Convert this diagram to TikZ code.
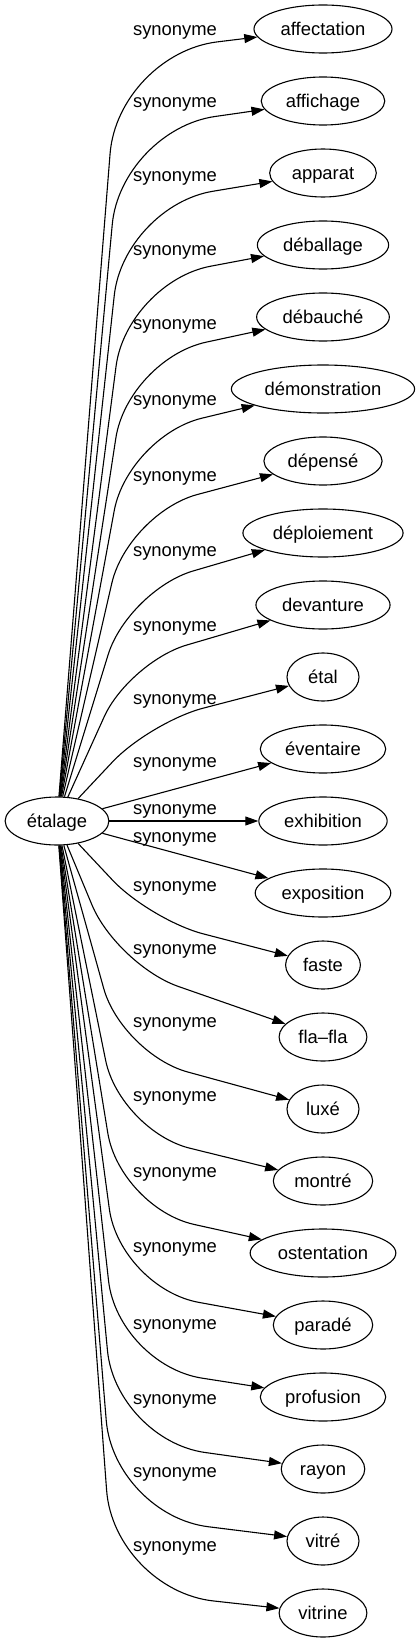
\documentclass[tikz,border=0pt]{standalone}
\usepackage{fontspec}
\setmainfont{Liberation Sans}
\usetikzlibrary{arrows.meta,shapes.geometric}
\tikzset{
  word/.style={ellipse, draw=black, line width=1.1pt, inner xsep=6.5pt, inner ysep=6.5pt,
               minimum width=72pt, minimum height=48pt, text height=13.2pt, text depth=0pt,
               font=\fontsize{18.4}{22}\selectfont},
  lbl/.style={anchor=base, inner sep=0pt, font=\fontsize{18.4}{22}\selectfont},
  flow/.style={-{Triangle[length=13pt,width=9pt]}, draw=black, line width=1.1pt},
}

\begin{document}
\begin{tikzpicture}[x=1pt, y=-1pt]
\useasboundingbox (0,0) rectangle (418,1643);
% head word
\node[word] (etalage) at (57,821) {étalage};
% synonyms, one row each
\node[word] (affectation)   at (323,29)   {affectation};
\node[word] (affichage)     at (323,101)  {affichage};
\node[word] (apparat)       at (323,173)  {apparat};
\node[word] (deballage)     at (323,245)  {déballage};
\node[word] (debauche)      at (323,317)  {débauché};
\node[word] (demonstration) at (323,389)  {démonstration};
\node[word] (depense)       at (323,461)  {dépensé};
\node[word] (deploiement)   at (323,533)  {déploiement};
\node[word] (devanture)     at (323,605)  {devanture};
\node[word] (etal)          at (323,677)  {étal};
\node[word] (eventaire)     at (323,749)  {éventaire};
\node[word] (exhibition)    at (323,821)  {exhibition};
\node[word] (exposition)    at (323,893)  {exposition};
\node[word] (faste)         at (323,965)  {faste};
\node[word] (flafla)        at (323,1037) {fla–fla};
\node[word] (luxe)          at (323,1109) {luxé};
\node[word] (montre)        at (323,1181) {montré};
\node[word] (ostentation)   at (323,1253) {ostentation};
\node[word] (parade)        at (323,1325) {paradé};
\node[word] (profusion)     at (323,1397) {profusion};
\node[word] (rayon)         at (323,1469) {rayon};
\node[word] (vitre)         at (323,1541) {vitré};
\node[word] (vitrine)       at (323,1613) {vitrine};
% edge labels
\node[lbl] (affectation-l)   at (175,35.5)   {synonyme};
\node[lbl] (affichage-l)     at (175,107.5)  {synonyme};
\node[lbl] (apparat-l)       at (175,181.5)  {synonyme};
\node[lbl] (deballage-l)     at (175,255.5)  {synonyme};
\node[lbl] (debauche-l)      at (175,329.5)  {synonyme};
\node[lbl] (demonstration-l) at (175,405.5)  {synonyme};
\node[lbl] (depense-l)       at (175,481.5)  {synonyme};
\node[lbl] (deploiement-l)   at (175,556.5)  {synonyme};
\node[lbl] (devanture-l)     at (175,631.5)  {synonyme};
\node[lbl] (etal-l)          at (175,704.5)  {synonyme};
\node[lbl] (eventaire-l)     at (175,767.5)  {synonyme};
\node[lbl] (exhibition-l)    at (175,814.5)  {synonyme};
\node[lbl] (exposition-l)    at (175,842.5)  {synonyme};
\node[lbl] (faste-l)         at (175,891.5)  {synonyme};
\node[lbl] (flafla-l)        at (175,954.5)  {synonyme};
\node[lbl] (luxe-l)          at (175,1027.5) {synonyme};
\node[lbl] (montre-l)        at (175,1101.5) {synonyme};
\node[lbl] (ostentation-l)   at (175,1177.5) {synonyme};
\node[lbl] (parade-l)        at (175,1252.5) {synonyme};
\node[lbl] (profusion-l)     at (175,1329.5) {synonyme};
\node[lbl] (rayon-l)         at (175,1404.5) {synonyme};
\node[lbl] (vitre-l)         at (175,1477.5) {synonyme};
\node[lbl] (vitrine-l)       at (175,1551.5) {synonyme};
% edges going up
\draw[flow, rounded corners=100pt] (etalage) -- (118,54)  -- (affectation);
\draw[flow, rounded corners=95pt]  (etalage) -- (121,130) -- (affichage);
\draw[flow, rounded corners=90pt]  (etalage) -- (124,206) -- (apparat);
\draw[flow, rounded corners=85pt]  (etalage) -- (127,282) -- (deballage);
\draw[flow, rounded corners=80pt]  (etalage) -- (128,359) -- (debauche);
\draw[flow, rounded corners=76pt]  (etalage) -- (128,436) -- (demonstration);
\draw[flow, rounded corners=72pt]  (etalage) -- (128,513) -- (depense);
\draw[flow, rounded corners=68pt]  (etalage) -- (128,590) -- (deploiement);
\draw[flow, rounded corners=60pt]  (etalage) -- (129,662) -- (devanture);
\draw[flow, rounded corners=55pt]  (etalage) -- (150,722) -- (etal);
% straight ones
\draw[flow] (etalage) -- (eventaire);
\draw[flow] (etalage) -- (exhibition);
\draw[flow] (etalage) -- (exposition);
% edges going down
\draw[flow, rounded corners=55pt]  (etalage) -- (150,920)  -- (faste);
\draw[flow, rounded corners=65pt]  (etalage) -- (117,965)  -- (flafla);
\draw[flow, rounded corners=68pt]  (etalage) -- (122,1054) -- (luxe);
\draw[flow, rounded corners=72pt]  (etalage) -- (120,1131) -- (montre);
\draw[flow, rounded corners=76pt]  (etalage) -- (120,1208) -- (ostentation);
\draw[flow, rounded corners=80pt]  (etalage) -- (120,1288) -- (parade);
\draw[flow, rounded corners=85pt]  (etalage) -- (118,1365) -- (profusion);
\draw[flow, rounded corners=90pt]  (etalage) -- (116,1440) -- (rayon);
\draw[flow, rounded corners=95pt]  (etalage) -- (114,1515) -- (vitre);
\draw[flow, rounded corners=100pt] (etalage) -- (114,1590) -- (vitrine);
\end{tikzpicture}
\end{document}
